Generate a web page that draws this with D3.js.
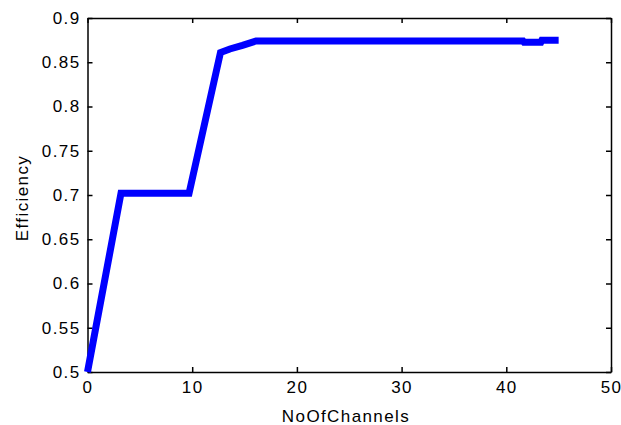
<!DOCTYPE html>
<html>
<head>
<meta charset="utf-8">
<script src="https://cdn.jsdelivr.net/npm/d3@7"></script>
<style>
  body { margin: 0; background: #fff; }
  svg text { font-family: "Liberation Sans", Arial, sans-serif; fill: #000; letter-spacing: 1.4px; }
</style>
</head>
<body>
<div id="chart"></div>
<script>
// channel count vs efficiency
const channels = [0, 3.2, 9.7, 12.7, 13.6, 14.8, 16.1, 41.6, 41.7, 43.3, 43.4, 45]
const efficiency = [0.5, 0.702, 0.702, 0.861, 0.865, 0.869, 0.874, 0.874, 0.8725, 0.8725, 0.875, 0.875]
const xTicks = [0, 10, 20, 30, 40, 50]
const yTicks = [0.5, 0.55, 0.6, 0.65, 0.7, 0.75, 0.8, 0.85, 0.9]

let width = 621
let height = 425
let margin = {left: 87.5, right: 10, top: 18, bottom: 53}

function drawChart() {
  let svg = d3.select('#chart')
    .append('svg')
    .attr('width', width)
    .attr('height', height)

  let xScale = d3.scaleLinear()
    .domain([0, 50])
    .range([margin.left, width - margin.right])
  let yScale = d3.scaleLinear()
    .domain([0.5, 0.9])
    .range([height - margin.bottom, margin.top])

  let tick = 5

  // bottom + top
  svg.append('g')
    .attr('transform', `translate(0,${height - margin.bottom})`)
    .call(d3.axisBottom(xScale).tickValues(xTicks).tickFormat(d3.format('d')).tickSizeInner(-tick).tickSizeOuter(0).tickPadding(9))
  svg.append('g')
    .attr('transform', `translate(0,${margin.top})`)
    .call(d3.axisTop(xScale).tickValues(xTicks).tickFormat('').tickSizeInner(-tick).tickSizeOuter(0))

  // left + right
  svg.append('g')
    .attr('transform', `translate(${margin.left},0)`)
    .call(d3.axisLeft(yScale).tickValues(yTicks).tickFormat(d => d3.format('')(+d.toFixed(2))).tickSizeInner(-tick).tickSizeOuter(0).tickPadding(7))
  svg.append('g')
    .attr('transform', `translate(${width - margin.right},0)`)
    .call(d3.axisRight(yScale).tickValues(yTicks).tickFormat('').tickSizeInner(-tick).tickSizeOuter(0))

  svg.selectAll('.domain, .tick line')
    .attr('stroke', '#000')
    .attr('stroke-width', 1.5)
  svg.selectAll('.tick text')
    .style('font-size', '17px')

  let line = d3.line()
    .x((d, i) => xScale(channels[i]))
    .y(d => yScale(d))

  svg.append('path')
    .datum(efficiency)
    .attr('d', line)
    .attr('fill', 'none')
    .attr('stroke', '#0000ff')
    .attr('stroke-width', 7)
    .attr('stroke-linejoin', 'miter')

  svg.append('text')
    .attr('x', 346)
    .attr('y', 422)
    .attr('text-anchor', 'middle')
    .style('font-size', '17px')
    .text('NoOfChannels')

  svg.append('text')
    .attr('transform', `translate(28,198) rotate(-90)`)
    .attr('text-anchor', 'middle')
    .style('font-size', '17px')
    .text('Efficiency')
}

drawChart()
</script>
</body>
</html>
